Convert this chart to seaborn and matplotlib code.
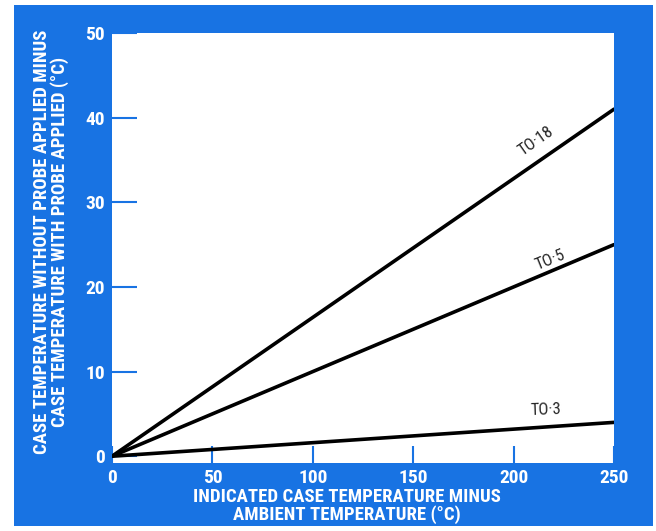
import numpy as np
import pandas as pd
import matplotlib
matplotlib.use("Agg")
import matplotlib.pyplot as plt
import seaborn as sns
from matplotlib.patches import Rectangle

# data
x_temp = [0, 250]
to18 = [0, 41]
to5 = [0, 25]
to3 = [0, 4]
series_names = ["TO·18", "TO·5", "TO·3"]
x_ticks = [0, 50, 100, 150, 200, 250]
y_ticks = [0, 10, 20, 30, 40, 50]

blue = "#1873e3"

sns.set_theme(style="white")
plt.rcParams["font.family"] = ["Roboto Condensed", "DejaVu Sans"]

df = pd.DataFrame({
    "x": x_temp * 3,
    "y": to18 + to5 + to3,
    "device": [series_names[0]] * 2 + [series_names[1]] * 2 + [series_names[2]] * 2,
})

fig = plt.figure(figsize=(6.56, 5.31), dpi=100)
fig.patch.set_facecolor("white")
# blue panel behind the plot
fig.patches.append(Rectangle((14 / 656, 1 - 526 / 531), 639 / 656, 521 / 531,
                             transform=fig.transFigure, facecolor=blue,
                             edgecolor="none", zorder=-5))

ax = fig.add_axes([112 / 656, 1 - 463 / 531, 502 / 656, 430 / 531])
ax.set_zorder(2)
ax.set_facecolor("white")
sns.lineplot(data=df, x="x", y="y", hue="device", palette=["black"] * 3,
             linewidth=2.6, legend=False, ax=ax)

ax.set_xlim(0, 250)
ax.set_ylim(-0.8, 50)
ax.set_xticks(x_ticks)
ax.set_yticks(y_ticks)
for s in ax.spines.values():
    s.set_visible(False)
ax.tick_params(axis="both", direction="in", color=blue, width=1.5,
               labelcolor="white", labelsize=14, bottom=True, left=True)
ax.tick_params(axis="y", length=18, pad=5)
ax.tick_params(axis="x", length=12, pad=4)
for lbl in ax.get_xticklabels() + ax.get_yticklabels():
    lbl.set_fontweight("bold")

ax.set_xlabel("INDICATED CASE TEMPERATURE MINUS\nAMBIENT TEMPERATURE (°C)",
              color="white", fontsize=13.5, fontweight="bold",
              linespacing=0.95)
ax.xaxis.set_label_coords(0.468, -0.058)
ax.set_ylabel("CASE TEMPERATURE WITHOUT PROBE APPLIED MINUS\nCASE TEMPERATURE WITH PROBE APPLIED (°C)",
              color="white", fontsize=13.5, fontweight="bold",
              linespacing=0.95)
ax.yaxis.set_label_coords(-0.086, 0.514)

# line labels
ax.text(211, 37.2, series_names[0], rotation=35, ha="center", va="center", fontsize=12)
ax.text(218, 23.2, series_names[1], rotation=22, ha="center", va="center", fontsize=12)
ax.text(216, 5.5, series_names[2], rotation=2, ha="center", va="center", fontsize=12)

fig.savefig("out.png", dpi=100)
